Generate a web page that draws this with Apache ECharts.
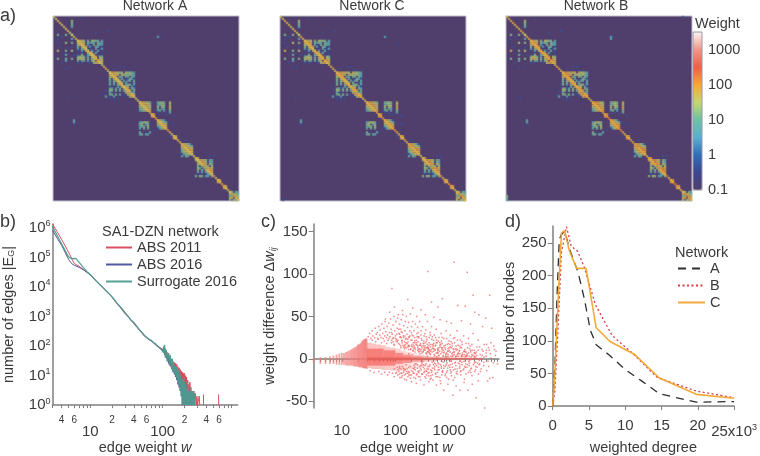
<!DOCTYPE html>
<html><head><meta charset="utf-8">
<style>html,body{margin:0;padding:0;background:#fff}#c{width:760px;height:456px}</style>
<script src="https://cdn.jsdelivr.net/npm/echarts@6/dist/echarts.min.js"></script></head>
<body><div id="c"></div>
<script>
// ---------- panel a: cell pattern: [row, firstColumn, level digits] ('.' = below scale)
const diagonalLevels = "556656565566565656656665566556665665665665566556667765667765656677556656556666667566775656776655675";
const patternRows = [
[2,9,"4"],[3,9,"3"],[4,9,"3"],[5,9,"2"],[1,14,"1"],[7,27,"1"],[8,21,"1"],[10,52,"2"],[10,53,"1"],
[9,2,"3"],[9,6,"3"],[9,9,"3"],[10,4,"1"],[11,2,"1"],[11,9,"2"],
[13,2,"1"],[13,6,"4"],[13,9,"3"],[15,3,"1"],[15,9,"1"],[17,2,"5"],[17,6,"3"],[17,9,"4"],[19,6,"2"],[19,10,"1"],[21,2,"3"],[21,6,"3"],[21,9,"3"],[22,6,"2"],[23,4,"1"],[25,8,"1"],[26,6,"1"],
[12,12,"6554.3.4433.2"],[13,12,"5665.3232.322"],[14,12,"4566.21.3.322"],[15,12,"3.565.21.32.1"],[16,12,"2.356.1..2.12"],[17,12,"1.2.46.21.2.1"],[18,12,"..1..565.2..1"],[19,12,"1.3..2565.1.1"],[20,12,"3443.2.566.43"],[21,12,"4554.3.456.54"],[22,12,"3.32.2.35.765"],[23,12,"1.1...1.45665"],
[25,33,"1.1"],[26,30,"1"],[27,36,"1.1"],
[28,28,"5665544.54432"],[29,28,"66655.5443432"],[30,28,"4566.32.33.32"],[31,28,"3.565.2..1321"],[32,28,"3.3564.2123.2"],[33,28,"2.3.564.3..12"],[34,28,"3.2.365.233.2"],[35,28,"..1.2.5654.21"],[36,28,"33.2.3.566.32"],[37,28,"43.3.3.2565.3"],[38,28,"2.1.....46.32"],[39,28,"33.3.2.1.5665"],[40,28,"1.2.....1.466"],
[35,27,"1"],[37,26,"1"],[39,25,"1"],[40,26,"2"],[41,7,"1"],[41,28,"1.1.1"],[42,30,"1"],
[43,43,"566543"],[44,43,"656654"],[45,43,"456655"],[46,43,"345664"],[47,43,"234566"],
[43,52,"3343..5"],[44,52,"2343..4"],[45,52,"4.44..6"],[46,52,"3.32..5"],[47,52,"23.2..3"],[48,52,"1.1...2"],[49,56,"1"],[50,60,"1"],
[52,10,"2"],[53,10,"2"],[54,10,"1"],[53,57,"1"],[54,60,"1"],
[53,43,"23443"],[54,43,"34.23"],[55,43,"233.4"],[56,43,"2.3.3"],[58,43,"3.1..2"],[59,43,"23.22"],[57,50,"1"],
[52,52,"56421"],[53,52,"66543"],[54,52,"45665"],[55,52,"24566"],[56,52,"12456"],[60,58,"1"],[62,66,"1"],
[60,60,"66"],[61,60,"66"],[49,49,"66"],[50,49,"66"],
[64,64,"455421"],[65,64,"566543"],[66,64,"456665"],[67,64,"356776"],[68,64,"245665"],[69,64,"123454"],[70,64,"2.32"],
[71,71,"66"],[72,71,"5"],
[72,72,"56654.32"],[73,72,"66764.32"],[74,72,"45666.43"],[75,72,"3.3.44.4"],[76,72,"43.3.665"],[77,72,"3.3.4676"],[78,72,"2.2.2566"],[79,72,"1.1.1245"],[80,71,"3.43.22.3"],
[70,78,"1.1"],[82,82,"66"],[83,82,"66"],[85,85,"66"],[86,85,"66"],
[88,88,"44.32"],[89,88,"5.443"],[90,88,"33.54"],[91,88,"55.45"],[92,88,"4.434"]
];
const networkBExtras = [[90,0,"3"],[91,0,"3"],[92,0,"2"],[11,52,"2"],[0,88,"1"]];
const networkCExtras = [[14,58,"1"],[92,1,"1"]];
const levelWeightsA = [0.4,5,12,22,40,65,110];
const levelWeightsB = [0.4,6,16,35,60,95,170];
const levelWeightsC = [0.4,6,14,28,52,80,130];
const colorbarTicks = [0.1,1,10,100,1000];
const colorbarStops = ['#4f3f6e','#3d4590','#2f6fb8','#57b0d2','#6cc3a4','#c5d86c','#f9a834','#ee5f45','#f0988a','#fbf5f2'];

// ---------- panel b: [edge weight, number of edges]
const abs2011 = [[3,1.35e6],[3.5,7.2e5],[4,4.1e5],[5,1.5e5],[6,6.2e4],[7,5e4],[8,3.9e4],[10,2.6e4],[12,1.6e4],[15,9.5e3],[20,4.5e3],[24,2.5e3],[27,1.8e3],[30,1250],[33,1050],[36,760],[40,570],[44,430],[48,350],[52,270],[56,215],[60,190],[65,160],[70,150],[75,125],[80,108],[85,105],[90,86],[95,92],[100,70],[103,95],[106,50],[109,80],[112,40],[115,62],[118,30],[121,58],[124,24],[127,45],[130,20],[133,36],[136,16],[139,30],[142,14],[145,28],[148,11],[151,26],[154,9],[157,24],[160,8],[163,20],[166,6],[169,18],[172,5],[175,16],[178,4],[181,14],[184,3],[187,13],[190,2],[193,12],[196,2],[199,12],[202,1],[206,10],[210,1],[214,9],[218,1],[222,7],[226,1],[230,5],[234,1],[238,6],[242,1],[246,4],[250,1],[256,3],[262,1],[270,3],[276,1],[284,2.5],[292,1],[298,2],[304,1],[320,2],[326,1],[null,'-'],[367,1],[367,2.3],[null,'-'],[594,1],[594,2.3]];
const abs2016 = [[3,8.2e5],[3.5,4.4e5],[4,2.6e5],[5,8.6e4],[5.5,6.2e4],[6,5.4e4],[7,4.6e4],[8,3.8e4],[10,2.6e4],[12,1.6e4],[15,9.2e3],[20,4.6e3],[24,2.6e3],[27,1.9e3],[30,1400],[33,1000],[36,800],[40,600],[44,450],[48,340],[52,290],[56,230],[60,200],[65,170],[70,145],[75,130],[80,115],[85,100],[90,92],[95,80],[100,76],[103,58],[106,90],[109,44],[112,68],[115,36],[118,52],[121,26],[124,42],[127,22],[130,34],[133,17],[136,28],[139,13],[142,24],[145,11],[148,20],[151,9],[154,18],[157,7],[160,16],[163,5],[166,13],[169,4],[172,10],[175,3],[178,9],[181,2],[184,7],[187,1],[190,7],[193,1],[196,6],[199,1],[202,5],[206,1],[210,5],[214,1],[218,4],[222,1],[228,3],[234,1],[240,3],[246,1],[252,3],[258,1],[268,2],[274,1]];
const surrogate2016 = [[3,1.1e6],[3.5,5.4e5],[4,2.9e5],[5,1.05e5],[5.5,9e4],[6.3,9.3e4],[7,6.8e4],[8,4.6e4],[9,3.3e4],[10,2.6e4],[12,1.6e4],[15,9.4e3],[20,4.6e3],[24,2.6e3],[27,1.9e3],[30,1350],[33,1050],[36,780],[40,620],[44,460],[48,350],[52,280],[56,225],[60,195],[65,165],[70,155],[75,128],[80,118],[85,98],[90,95],[95,78],[100,85],[103,60],[106,110],[109,40],[112,75],[115,30],[118,55],[121,45],[124,22],[127,50],[130,28],[133,16],[136,38],[139,14],[142,25],[145,12],[148,22],[151,10],[154,20],[157,8],[160,18],[163,6],[166,15],[169,5],[172,12],[175,3],[178,10],[181,2],[184,8],[187,1],[190,7],[193,1],[196,8],[199,1],[202,6],[205,1],[208,5],[211,1],[214,4],[217,1],[220,6],[223,1],[226,3],[229,1],[232,3],[235,1],[238,4],[241,1],[244,3],[247,1],[250,3],[253,1],[256,3],[259,1],[265,3],[270,1],[275,2.5],[280,1]];
const edgeMinorTicks = [3,4,5,6,7,8,9,10,20,30,40,50,60,70,80,90,100,200,300,400,500,600,700,800,900,1000];
const edgeTickLabels = [4,6,10,20,40,60,100,200,400,600,1000];
const countTicks = [1,10,100,1000,10000,100000,1000000];

// ---------- panel c: integer-weight stripes [w, low, high]; dense regions [w0, w1, low, high, alpha]; single edges [w, diff]
const lowWeightStripes = [[3,1,-5],[4,2,-6],[5,2,-6],[6,3,-6],[7,4,-6],[8,5,-7],[9,6,-7],[10,7,-7],[11,7,-7],[12,8,-8],[13,9,-8],[14,10,-8],[15,11,-8],[16,12,-8],[17,13,-9],[18,14,-9],[19,15,-9],[20,17,-9],[21,17,-10],[22,18,-10],[23,19,-10],[24,21,-10],[25,22,-11],[26,23,-11],[27,23,-11],[28,24,-11],[29,24,-12]];
const denseRegions = [
[29,36,-11,19,.36],[36,44,-12,18,.36],[44,54,-12,17,.36],[54,66,-13,16,.34],[66,80,-13,14,.32],[80,100,-14,13,.3],[100,125,-14,12,.26],[125,160,-14,10,.22],[160,200,-13,8,.18],[200,260,-12,7,.12],[260,400,-11,6,.07],
[29,60,-8,12,.62],[60,100,-8,10,.62],[100,140,-6,7,.58],[140,200,-5,5,.52],[200,350,-4,4,.42],[350,600,-3,3,.36],[600,1200,-2,2.5,.3],[1200,2500,-1.5,2,.26],[2500,4200,-1,1.5,.24],
[29,100,-2.5,2.5,.3],[100,300,-2,2.5,.45],[300,1000,-1,1.5,.55],[1000,4300,-.7,1,.5]];
const singleEdges = [[2350,160],[1240,114],[400,103],[2180,102],[86,83],[5700,75],[2800,75],[750,71],[170,70],[470,67],[96,61],[78,55],[620,61],[1450,63],[2000,62],[3000,55],[3600,52],[4800,48],[210,60],[300,58],[135,57],[110,48],[65,47],[250,50],[360,52],[520,49],[680,46],[900,44],[1100,42],[1700,45],[2500,41],[4200,38],[6200,36],
[3200,-46],[790,-37],[1180,-43],[1590,-37],[5700,-23],[2250,-37],[4600,-58],[245,-29],[580,-31],[420,-27],[340,-31],[160,-25],[130,-22],[95,-21],[72,-19],[55,-18],[40,-16],[700,-29],[950,-30],[1350,-32],[1900,-28],[2700,-30],[3500,-26],[5200,-26],[6500,-22],
[31,26],[33,30],[35,24],[37,33],[38,27],[41,25],[42,36],[44,29],[46,31],[47,24],[49,38],[51,28],[52,34],[54,25],[56,41],[58,30],[59,24],[61,36],[63,27],[64,44],[66,32],[68,25],[70,38],[71,28],[73,22],[75,42],[77,31],[79,26],[81,47],[83,35],[85,22],[87,29],[90,40],[92,25],[94,50],[97,33],[100,24],[102,44],[105,29],[108,36],[111,22],[113,52],[116,30],[119,41],[122,25],[125,35],[128,46],[131,21],[134,31],[137,52],[140,27],[143,39],[147,20],[150,33],[153,44],[157,24],[160,50],[164,29],[168,37],[172,20],[176,43],[180,26],[185,33],[190,53],[195,22],[200,38],[205,28],[210,44],[216,19],[222,33],[228,25],[235,41],[242,17],[250,30],[258,37],[265,20],[273,26],[282,44],[290,16],[300,33],[310,22],[320,38],[330,18],[342,27],[355,15],[368,34],[380,21],[395,44],[410,13],[425,25],[440,31],[455,17],[470,38],[490,12],[510,22],[530,28],[550,15],[575,35],[600,19],[625,11],[650,25],[680,14],[710,30],[740,18],[770,10],[800,24],[840,13],[880,33],[920,17],[960,9],[1000,21],[1050,28],[1100,13],[1150,18],[1210,8],[1270,25],[1330,12],[1400,33],[1470,16],[1540,9],[1620,22],[1700,13],[1780,7],[1870,27],[1960,11],[2060,18],[2170,6],[2290,24],[2400,12],[2530,8],[2660,17],[2800,30],[2950,10],[3100,6],[3300,14],[3500,22],[3800,5],[4100,11],[4500,17],[4900,7],[5400,13],[6000,19],[6800,15],[7500,9],
[120,17],[126,15],[133,19],[142,14],[149,16],[158,13],[166,18],[175,11],[184,15],[193,12],[203,17],[213,10],[224,14],[236,11],[248,19],[260,13],[272,9],[286,16],[298,11],[312,13],[326,8],[340,18],[356,10],[372,7],[388,13],[404,9],[422,16],[440,6],[460,11],[480,8],[500,14],[525,5],[550,10],[575,7],[605,12],[635,4],[665,9],[700,6],[735,11],[775,4],[815,8],[860,3],[905,7],[955,5],[1010,10],[1065,3],[1125,6],[1190,4],[1260,8],[1335,3],[1415,5],[1500,3],[1590,6],[1690,4],[1800,3],[1920,5],[2050,3],[2200,4],[2400,3],[2650,5],[2950,3],[3300,4],
[210,-15],[222,-17],[233,-13],[246,-19],[258,-11],[272,-16],[286,-21],[300,-13],[316,-18],[332,-10],[350,-15],[368,-23],[388,-12],[408,-17],[430,-9],[452,-20],[476,-14],[500,-25],[526,-11],[554,-17],[584,-8],[615,-21],[648,-13],[682,-26],[718,-9],[756,-16],[796,-11],[838,-20],[882,-7],[930,-14],[980,-24],[1030,-10],[1085,-17],[1145,-6],[1205,-13],[1270,-22],[1340,-8],[1410,-15],[1490,-5],[1570,-11],[1650,-19],[1740,-7],[1835,-13],[1935,-24],[2040,-6],[2150,-10],[2270,-16],[2400,-5],[2530,-12],[2670,-20],[2820,-7],[2980,-15],[3150,-4],[3320,-10],[3520,-18],[3720,-6],[3950,-12],[4400,-8],[5000,-14],
[105,-16],[110,-19],[116,-15],[121,-22],[127,-17],[134,-20],[141,-16],[148,-24],[156,-18],[163,-15],[171,-21],[180,-16],[189,-19],[199,-27],[120,-9],[140,-11],[165,-12],[190,-9],[220,-8],[260,-7],[310,-8],[370,-6],[440,-7],[530,-5],[640,-6],[770,-4],[920,-5],[1100,-3],[1320,-4],[1580,-3],[1900,-3],[2300,-3],[260,10],[310,7],[380,6],[450,5],[540,4],[650,4],[780,3],[950,3],[1150,3],[1400,3],[1700,2.5],[2100,3],[2600,2.5],[3100,2.5],
[37,22],[43,20],[48,23],[55,19],[62,21],[69,18],[76,24],[84,19],[93,17],[103,21],[114,18],[123,26],[138,16],[155,23],[174,15],[187,27],[207,14],[229,21],[253,16],[277,12],[304,24],[333,11],[364,19],[397,14],[433,10],[473,23],[517,9],[564,16],[616,7],[673,19],[735,8],[803,15],[877,6],[958,12],[1046,8],[1142,15],[1247,5],[1362,10],[1487,7],[1624,13],[1773,5],[1936,9],[2114,4],[2308,7],[2520,10],[2752,4],[3005,7],
[222,12],[287,6],[171,14],[349,11],[428,7],[203,22],[154,17],[268,25],[392,17],[516,12],[611,8],[729,13],[867,5],[1033,17],[1229,11],[1462,6],[1741,17],[2071,8],[2464,15],[2931,7],[3488,10],[4150,4],[4938,10],[5875,6],[6991,11],
[311,-5],[223,-12],[176,-10],[412,-12],[358,-8],[541,-9],[472,-16],[693,-7],[624,-13],[852,-9],[1047,-7],[1289,-12],[1581,-6],[1944,-9],[2391,-8],[2940,-5],[3615,-7],[4447,-4],[5470,-9],[281,-9],[198,-14],[146,-19],[118,-18],[101,-17],[88,-17],[77,-16],[63,-16],[49,-15],[34,-14],[112,-13],[131,-17],[152,-13],[178,-19],[237,-23],[294,-25],[377,-19],[462,-23],[568,-18],[731,-19],[899,-16],[1106,-20],[1360,-17],[1673,-14],[2058,-18],[2532,-16],[3114,-9],[3830,-15],
[208,5],[177,6],[243,-6],[319,-3],[395,3],[483,-4],[590,2.5],[722,-3],[884,2.5],[1081,-2.5],[1324,2.5],[1620,-2.5],[1983,2.5],[2427,-2],[2971,2],[3636,-2],[4450,2],[4900,3],[5300,-3],[6000,1],[6700,-5],[7300,4],[8000,-6]
];
// more single edges in the crowded middle of the cloud
const crowdedEdges = [[147,12],[212,9],[96,16],[263,15],[134,22],[331,9],[178,25],[119,29],[407,12],[231,8],[507,16],[159,19],[293,18],[621,10],[384,23],[198,31],[108,20],[762,13],[451,9],[254,26],[89,24],[338,21],[938,9],[573,19],[127,13],[1150,7],[219,16],[717,21],[487,26],[143,25],[1420,11],[276,11],[852,16],[354,30],[169,23],[1050,14],[609,7],[415,8],[100,27],[1270,19],[539,11],[310,15],[790,7],[191,11],[1580,15],[672,16],[229,19],[424,19],[967,18],[128,32],[1880,9],[561,25],[347,13],[1190,12],[268,31],[2200,13],[741,25],[151,27],[489,17],[1430,22],[85,31],[374,26],[902,24],[215,27],[1730,20],[632,21],[116,35],[445,28],[1090,20],[298,28],
[147,-12],[212,-11],[96,-12],[263,-15],[134,-9],[331,-7],[178,-15],[119,-11],[407,-9],[231,-6],[507,-7],[159,-7],[293,-11],[621,-5],[384,-15],[198,-19],[108,-10],[762,-14],[451,-13],[254,-18],[338,-16],[938,-11],[573,-21],[127,-12],[1150,-10],[219,-22],[717,-11],[487,-19],[143,-14],[1420,-12],[276,-14],[852,-18],[354,-21],[169,-17],[1050,-13],[609,-16],[415,-20],[1270,-5],[539,-13],[310,-18],[790,-8],[191,-23],[1580,-9],[672,-22],[229,-10],[424,-16],[967,-8],[1880,-12],[561,-6],[347,-12],[1190,-25],[268,-21],[2200,-7],[741,-15],[489,-11],[1430,-18],[374,-14],[902,-22],[215,-17],[1730,-4],[632,-10],[445,-24],[1090,-15],[298,-8],[2600,-11],[3100,-13],[3400,-5],[2400,-14],[2000,-10],[1620,-15],
[2000,8],[2300,18],[2700,10],[3200,8],[3700,14],[4300,9],[5000,17],[5600,10],[1560,10],[1350,15],[1200,24],[1000,13],[850,11],[700,17],[640,13],[580,22],[520,18],[450,14],[420,11],[390,8],[370,13],[335,15],[300,9],[275,8],[245,22],[230,13],[200,15],[175,16],[150,14],[130,25],[105,23],[90,20]
];
const diffTicks = [-50,0,50,100,150];
const weightLabelsC = [10,100,1000];
const weightTicksC = [3,4,5,6,7,8,9,10,20,30,40,50,60,70,80,90,100,200,300,400,500,600,700,800,900,1000,2000,3000,4000,5000,6000,7000,8000];

// ---------- panel d: [weighted degree (x10^3), number of nodes]
const degreeA = [[0,0],[0.3,60],[0.6,170],[0.9,255],[1.2,263],[1.65,268],[2.4,238],[3.5,205],[4.35,165],[5.2,116],[6,94],[7.7,79],[10,56],[12.2,39],[14.7,19],[17,13],[19.8,6],[25,7]];
const degreeB = [[0,0],[0.3,22],[0.7,110],[1.2,235],[1.9,275],[2.55,245],[3.45,237],[4.35,213],[5.9,155],[8.2,108],[11,81],[14.4,44],[19.8,23],[25,13]];
const degreeC = [[0,0],[0.3,50],[0.7,150],[1.2,265],[1.65,269],[2.3,238],[3.3,211],[4.6,211],[6,120],[7.9,99],[11.3,79],[14.7,43],[19.8,18],[25,12]];
const degreeTicks = [0,5,10,15,20,25];
const nodeTicks = [0,50,100,150,200,250];

// ---------- build
const TXT='#3a3a3a', AX='#7f7f7f', FONT='"Liberation Sans", Arial, sans-serif';
const axisLine={show:true,lineStyle:{color:AX,width:1.5}};
function cells(extras, weights){
  const out=[];
  const add=(r,c,s)=>{[...s].forEach((ch,i)=>{ if(ch!=='.') out.push([c+i,r,Math.log10(weights[+ch-1])]); });};
  patternRows.forEach(p=>add(p[0],p[1],p[2]));
  extras.forEach(p=>add(p[0],p[1],p[2]));
  for(let i=0;i<93;i++) add(i,i,diagonalLevels[i]);
  return out;
}
const idx=Array.from({length:93},(_,i)=>i);
const heatGrids=[{left:53,w:186},{left:280,w:186},{left:506,w:186}];
const grids=heatGrids.map(g=>({left:g.left,top:16,width:g.w,height:185,show:true,backgroundColor:'#503f6c',borderColor:'#c2bfcc',borderWidth:1}));
grids.push({left:693,top:32,width:9,height:158,show:true,borderColor:'#9a96a6',borderWidth:1,backgroundColor:'transparent',z:5}); //3
grids.push({left:52.3,top:224,width:185.4,height:186}); //4 b
grids.push({left:313.7,top:224,width:185.3,height:186}); //5 c
grids.push({left:552.7,top:226,width:185.6,height:185.3}); //6 d
const xAxes=[],yAxes=[];
for(let i=0;i<3;i++){
  xAxes.push({type:'category',gridIndex:i,data:idx,show:false});
  yAxes.push({type:'category',gridIndex:i,data:idx,show:false,inverse:true});
}
// colorbar axes
xAxes.push({type:'value',gridIndex:3,show:false,min:0,max:1});
yAxes.push({type:'log',gridIndex:3,min:0.1,max:3162,position:'right',axisLine:{show:false},axisTick:{show:false},splitLine:{show:false},
  axisLabel:{customValues:colorbarTicks,margin:6,fontSize:14.5,color:TXT,fontFamily:FONT,formatter:v=>String(colorbarTicks.find(t=>Math.abs(t-v)<t*0.01)||'')}});
const nameStyle={fontSize:14.5,color:TXT,fontFamily:FONT};
const richName={i:{fontSize:14.5,fontStyle:'italic',color:TXT,fontFamily:FONT},sub:{fontSize:9,fontStyle:'italic',color:TXT,fontFamily:FONT,padding:[7,0,0,0]},subn:{fontSize:9,color:TXT,fontFamily:FONT,padding:[7,0,0,0]},t:{fontSize:14.5,color:TXT,fontFamily:FONT}};
// b
const minorLabel=v=>{const e=Math.floor(Math.log10(v)+1e-9);return Math.round(v/Math.pow(10,e));};
xAxes.push({type:'log',gridIndex:4,min:3,max:1090,axisLine,splitLine:{show:false},minorSplitLine:{show:false},
  axisTick:{show:true,length:3,lineStyle:{color:AX},customValues:edgeMinorTicks},
  axisLabel:{customValues:edgeTickLabels,margin:5,color:TXT,fontFamily:FONT,
    formatter:v=>{const r=Math.round(v);return [10,100,1000].includes(r)?'{M|'+r+'}':'{m|'+minorLabel(r)+'}';},
    rich:{m:{fontSize:10,color:TXT,fontFamily:FONT,padding:[5,0,0,0]},M:{fontSize:15,color:TXT,fontFamily:FONT,padding:[14,0,0,0]}}},
  name:'{t|edge weight }{i|w}',nameLocation:'middle',nameGap:32,nameTextStyle:{rich:richName,...nameStyle}});
yAxes.push({type:'log',gridIndex:4,min:1,max:1.35e6,axisLine,splitLine:{show:false},axisTick:{show:false},
  axisLabel:{customValues:countTicks,margin:2,color:TXT,fontFamily:FONT,
    formatter:v=>'{b|10}{s|'+Math.round(Math.log10(v))+'}',
    rich:{b:{fontSize:15,color:TXT,fontFamily:FONT},s:{fontSize:9,color:TXT,fontFamily:FONT,padding:[0,0,8,0]}}},
  name:'{t|number of edges |E}{subn|G}{t||}',nameLocation:'middle',nameGap:36,nameTextStyle:{rich:richName,...nameStyle}});
// c
xAxes.push({type:'log',gridIndex:5,min:3,max:8500,axisLine,splitLine:{show:false},
  axisTick:{show:true,length:3,lineStyle:{color:AX},customValues:weightTicksC},
  axisLabel:{customValues:weightLabelsC,margin:15,fontSize:15,color:TXT,fontFamily:FONT,formatter:v=>String(Math.round(v))},
  name:'{t|edge weight }{i|w}',nameLocation:'middle',nameGap:32,nameTextStyle:{rich:richName,...nameStyle}});
yAxes.push({type:'value',gridIndex:5,min:-58,max:159,axisLine,splitLine:{show:false},
  axisTick:{show:true,length:5,lineStyle:{color:AX},customValues:diffTicks},
  axisLabel:{customValues:diffTicks,margin:6,fontSize:15,color:TXT,fontFamily:FONT},
  name:'{t|weight difference Δ}{i|w}{sub|ij}',nameLocation:'middle',nameGap:36,nameTextStyle:{rich:richName,...nameStyle}});
// d
xAxes.push({type:'value',gridIndex:6,min:0,max:25,offset:1,axisLine,splitLine:{show:false},
  axisTick:{show:true,length:4,lineStyle:{color:AX},customValues:degreeTicks},
  axisLabel:{customValues:degreeTicks,margin:11,color:TXT,fontFamily:FONT,fontSize:15,
    formatter:v=>v===25?'{w|25x10}{s|3}':'{n|'+v+'}',
    rich:{n:{fontSize:15,color:TXT,fontFamily:FONT},w:{fontSize:15,color:TXT,fontFamily:FONT,padding:[6,0,0,0]},s:{fontSize:9,color:TXT,fontFamily:FONT,padding:[0,0,2,0]}}},
  name:'weighted degree',nameLocation:'middle',nameGap:29,nameTextStyle:nameStyle});
yAxes.push({type:'value',gridIndex:6,min:0,max:276,offset:1,axisLine,splitLine:{show:false},
  axisTick:{show:true,length:5,lineStyle:{color:AX},customValues:nodeTicks},
  axisLabel:{customValues:nodeTicks,margin:5,fontSize:15,color:TXT,fontFamily:FONT},
  name:'number of nodes',nameLocation:'middle',nameGap:31,nameTextStyle:nameStyle});

const heat=(i,name,data)=>({type:'heatmap',name,xAxisIndex:i,yAxisIndex:i,data,progressive:0,silent:true,itemStyle:{opacity:.6},emphasis:{disabled:true}});
const ln=(name,x,data,color,width,dash)=>({type:'line',name,xAxisIndex:x,yAxisIndex:x,data,showSymbol:false,symbol:'none',silent:true,connectNulls:false,
  lineStyle:{color,width,type:dash||'solid',opacity:.95},itemStyle:{color},animation:false});
const series=[
 heat(0,'Network A',cells([],levelWeightsA)),
 heat(1,'Network C',cells(networkCExtras,levelWeightsC)),
 heat(2,'Network B',cells(networkBExtras,levelWeightsB)),
 ln('ABS 2011',4,abs2011,'#d8485a',1),
 ln('ABS 2016',4,abs2016,'#46509c',1),
 ln('Surrogate 2016',4,surrogate2016,'#4f9b8e',1.3),
 {type:'custom',xAxisIndex:5,yAxisIndex:5,silent:true,data:denseRegions,encode:{x:[0,1],y:[2,3]},
  renderItem:(p,api)=>{const a=api.coord([api.value(0),api.value(3)]),b=api.coord([api.value(1),api.value(2)]);
    return {type:'rect',shape:{x:a[0],y:a[1],width:b[0]-a[0],height:b[1]-a[1]},style:{fill:'#f4554f',opacity:api.value(4)}};}},
 {type:'custom',xAxisIndex:5,yAxisIndex:5,silent:true,data:lowWeightStripes,encode:{x:0,y:[1,2]},
  renderItem:(p,api)=>{const a=api.coord([api.value(0),api.value(1)]),b=api.coord([api.value(0),api.value(2)]);
    return {type:'rect',shape:{x:a[0]-.9,y:a[1],width:1.8,height:b[1]-a[1]},style:{fill:'#f27a78',opacity:.7}};}},
 {type:'scatter',xAxisIndex:5,yAxisIndex:5,silent:true,data:singleEdges.concat(crowdedEdges),symbol:'rect',symbolSize:1.5,itemStyle:{color:'#ee5a5a',opacity:.7},large:false},
 ln('A',6,degreeA,'#222222',1.3,[8,6]),
 ln('B',6,degreeB,'#d0333f',1.3,[2,2.5]),
 ln('C',6,degreeC,'#f0a52c',1.6)
];
const t=(text,left,top,size,align)=>({text,left,top,padding:0,textAlign:align||'left',textStyle:{fontSize:size,fontWeight:'normal',color:TXT,fontFamily:FONT}});
const option={animation:false,backgroundColor:'#fff',
 title:[t('a)',0,7,18),t('b)',0,213,18),t('c)',261,213,18),t('d)',505,213,18),
   t('Network A',155,-1,14,'center'),t('Network C',372,-1,14,'center'),t('Network B',596,-1,14,'center'),
   t('Weight',695,16,14.5),t('SA1-DZN network',102,224,14.5),t('Network',675,245,14.5)],
 grid:grids,xAxis:xAxes,yAxis:yAxes,series,
 legend:[
  {data:['ABS 2011','ABS 2016','Surrogate 2016'],orient:'vertical',left:105,top:240,padding:0,itemWidth:26,itemHeight:10,itemGap:2,selectedMode:false,itemStyle:{opacity:0},textStyle:{fontSize:14.5,color:TXT,fontFamily:FONT}},
  {data:['A','B','C'],orient:'vertical',left:677,top:261,padding:0,itemWidth:27,itemHeight:10,itemGap:2,selectedMode:false,itemStyle:{opacity:0},textStyle:{fontSize:14.5,color:TXT,fontFamily:FONT}}
 ],
 visualMap:{type:'continuous',seriesIndex:[0,1,2],dimension:2,min:-1,max:3.5,left:693,top:32,itemWidth:9,itemHeight:158,calculable:false,realtime:false,text:['',''],showLabel:false,hoverLink:false,inRange:{color:colorbarStops},padding:0}
};
const chart=echarts.init(document.getElementById('c'),null,{renderer:'canvas',width:760,height:456});
chart.setOption(option);
</script></body></html>
